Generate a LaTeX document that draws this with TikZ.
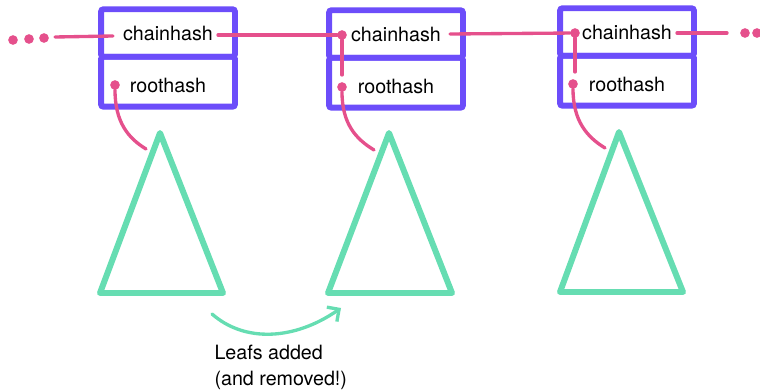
\documentclass[tikz,border=0pt]{standalone}
\usepackage{fontspec}
\setmainfont{TeX Gyre Heros}
\usetikzlibrary{positioning,arrows.meta}
\definecolor{blockpurple}{HTML}{6C4DFA}
\definecolor{linkpink}{HTML}{E5508C}
\definecolor{treegreen}{HTML}{66DDB2}
\tikzset{every path/.style={line width=1.9pt, line cap=round}}
\tikzset{field/.style={draw=blockpurple, line width=3.4pt, rounded corners=1.5pt, minimum width=2.68cm, minimum height=0.95cm, outer sep=0pt, inner sep=0pt}}
\tikzset{rootfield/.style={field, minimum height=1cm, text height=0.44cm}}
\tikzset{pin/.style={circle, fill=linkpink, inner sep=0pt, outer sep=0pt, minimum size=5.5pt}}
\tikzset{link/.style={draw=linkpink, line width=1.9pt}}
\tikzset{tree/.style={draw=treegreen, line width=3.4pt, line join=round}}

\begin{document}
\begin{tikzpicture}[x=0.02cm, y=-0.02cm, font=\fontsize{11.2}{14.7}\selectfont]
\useasboundingbox (0,0) rectangle (760,391);

\node[field] (chain1) at (168,33) {chainhash};
\node[rootfield, below=0pt of chain1] (root1) {roothash};
\node[field] (chain2) at (396,34) {chainhash};
\node[rootfield, below=0pt of chain2] (root2) {roothash};
\node[field] (chain3) at (627,32) {chainhash};
\node[rootfield, below=0pt of chain3] (root3) {roothash};

\draw[tree] (160,133) -- (223,293) -- (100,293) -- cycle;
\draw[tree] (389,133) -- (452,293) -- (328,293) -- cycle;
\draw[tree] (619,132) -- (683,292) -- (560,292) -- cycle;

\node[pin] (far1) at (13,40) {};
\node[pin] (far2) at (29,39) {};
\node[pin] (far3) at (44,38) {};
\node[pin] (far4) at (745,33) {};
\node[pin] (far5) at (757,33) {};
\node[pin] (root1pin) at (115,85) {};
\node[pin] (chain2pin) at (342,35) {};
\node[pin] (root2pin) at (342,87) {};
\node[pin] (chain3pin) at (575,33) {};
\node[pin] (root3pin) at (573,84) {};

\coordinate (in1) at (55,37);
\coordinate (in1end) at (113,36);
\coordinate (out1) at (218,35);
\coordinate (out2) at (450,34);
\coordinate (out3) at (677,33);
\coordinate (out3end) at (727,33);
\coordinate (stem2) at (342,75);
\coordinate (stem3) at (575,72);
\coordinate (tip1) at (146,149);
\coordinate (tip2) at (374,150);
\coordinate (tip3) at (605,148);

\draw[link] (in1) -- (in1end);
\draw[link] (out1) -- (chain2pin);
\draw[link] (chain2pin) -- (stem2);
\draw[link] (out2) -- (chain3pin);
\draw[link] (chain3pin) -- (stem3);
\draw[link] (out3) -- (out3end);
\draw[link] (root1pin) .. controls (115,122) and (128,138) .. (tip1);
\draw[link] (root2pin) .. controls (342,124) and (356,139) .. (tip2);
\draw[link] (root3pin) .. controls (573,121) and (587,137) .. (tip3);

\coordinate (grow1) at (212,314);
\coordinate (grow2) at (341,308);
\draw[draw=treegreen, line width=1.9pt, -{Straight Barb[length=5pt, width=10pt]}] (grow1) .. controls (245,343) and (295,340) .. (grow2);

\node[anchor=north west, align=left] (note) at (207,338) {Leafs added\\(and removed!)};
\end{tikzpicture}
\end{document}
